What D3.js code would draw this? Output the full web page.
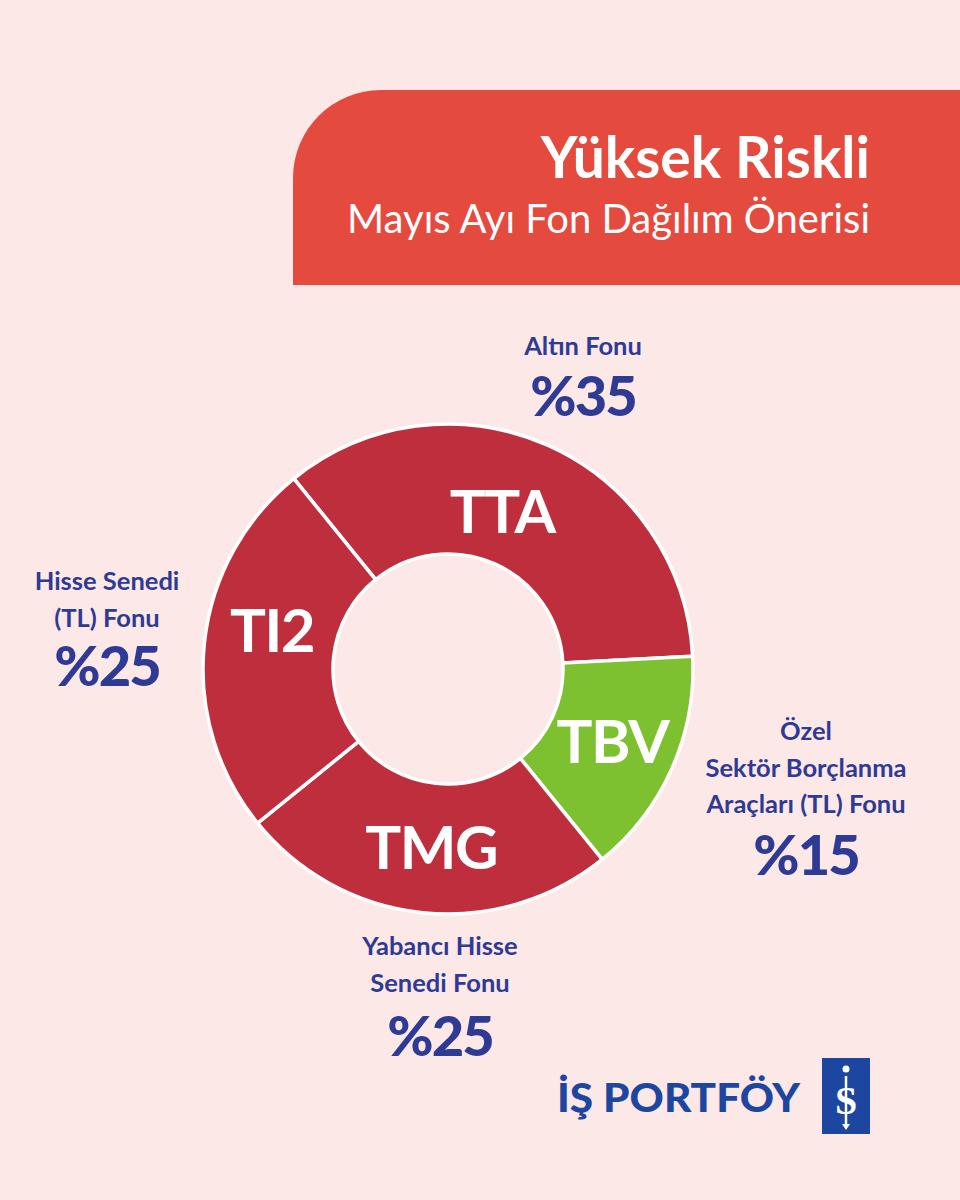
<!DOCTYPE html>
<html><head><meta charset="utf-8">
<script src="https://cdn.jsdelivr.net/npm/d3@7"></script>
<style>html,body{margin:0;padding:0;background:#FCE8E6;}svg{display:block;}</style>
</head><body>
<svg id="c" width="960" height="1200"></svg>
<script>
// ---- data ----
const codes = ["TTA", "TBV", "TMG", "TI2"];
const values = [35, 15, 25, 25];
const fundNames = [
  ["Altın Fonu"],
  ["Özel", "Sektör Borçlanma", "Araçları (TL) Fonu"],
  ["Yabancı Hisse", "Senedi Fonu"],
  ["Hisse Senedi", "(TL) Fonu"]
];
const percentLabels = ["%35", "%15", "%25", "%25"];
const titleText = "Yüksek Riskli";
const subtitleText = "Mayıs Ayı Fon Dağılım Önerisi";
const brandText = "İŞ PORTFÖY";

// ---- styles / layout ----
const BG = "#FCE8E6", RED = "#BE2E3D", GREEN = "#7DC130", HEAD = "#E54A3F", BLUE = "#2E3A94", LOGO = "#1C46A0";
const sliceColors = [RED, GREEN, RED, RED];
const cx = 448, cy = 669, R = 245, r0 = 115;
const FONT = "Lato, 'Open Sans', sans-serif";

const svg = d3.select("#c");
svg.append("rect").attr("width", 960).attr("height", 1200).attr("fill", BG);

// header panel with rounded top-left corner
const hx = 293, hy = 90, hw = 960 - 293, hh = 195, rad = 88;
svg.append("path")
  .attr("d", `M${hx},${hy + hh} L${hx},${hy + rad} A${rad},${rad} 0 0 1 ${hx + rad},${hy} L${hx + hw},${hy} L${hx + hw},${hy + hh} Z`)
  .attr("fill", HEAD);
svg.append("text").text(titleText)
  .attr("x", 870).attr("y", 178).attr("text-anchor", "end")
  .attr("font-family", FONT).attr("font-weight", 700).attr("font-size", 57)
  .attr("fill", "#fff");
svg.append("text").text(subtitleText)
  .attr("x", 870).attr("y", 233).attr("text-anchor", "end")
  .attr("font-family", FONT).attr("font-weight", 400).attr("font-size", 40)
  .attr("fill", "#fff");

// donut
const startA = -39 * Math.PI / 180;
const pie = d3.pie().sort(null).value(d => d.v)
  .startAngle(startA).endAngle(startA + 2 * Math.PI);
const rows = codes.map((c, i) => ({ code: c, v: values[i], color: sliceColors[i] }));
const arcs = pie(rows);
const arc = d3.arc().innerRadius(r0).outerRadius(R);
const g = svg.append("g").attr("transform", `translate(${cx},${cy})`);
g.selectAll("path.slice").data(arcs).join("path")
  .attr("class", "slice")
  .attr("d", arc)
  .attr("fill", d => d.data.color)
  .attr("stroke", "#fff").attr("stroke-width", 3.5).attr("stroke-linejoin", "round");

// slice code labels (centroid with small nudges)
const codeNudge = [[-19, 7], [0, -1], [2, -1], [3, -20]];
g.selectAll("text.code").data(arcs).join("text")
  .attr("class", "code")
  .attr("x", (d, i) => arc.centroid(d)[0] + codeNudge[i][0])
  .attr("y", (d, i) => arc.centroid(d)[1] + codeNudge[i][1])
  .attr("dy", "0.36em")
  .attr("text-anchor", "middle")
  .attr("font-family", FONT).attr("font-weight", 700).attr("font-size", 60)
  .attr("letter-spacing", -1.5)
  .attr("fill", "#fff")
  .text(d => d.data.code);

// outer labels
const labelPos = [
  { x: 583, y: 355, pctY: 416 },
  { x: 806, y: 740, pctY: 875 },
  { x: 440, y: 955, pctY: 1056 },
  { x: 107, y: 590, pctY: 686 }
];
const lineH = 36.5;
codes.forEach((c, i) => {
  const p = labelPos[i];
  fundNames[i].forEach((line, j) => {
    svg.append("text").text(line)
      .attr("x", p.x).attr("y", p.y + j * lineH)
      .attr("text-anchor", "middle")
      .attr("font-family", FONT).attr("font-weight", 700).attr("font-size", 25.5)
      .attr("fill", BLUE);
  });
  svg.append("text").text(percentLabels[i])
    .attr("x", p.x).attr("y", p.pctY)
    .attr("text-anchor", "middle")
    .attr("font-family", FONT).attr("font-weight", 900).attr("font-size", 56)
    .attr("letter-spacing", -2)
    .attr("fill", BLUE);
});

// brand
svg.append("text").text(brandText)
  .attr("x", 800).attr("y", 1112).attr("text-anchor", "end")
  .attr("font-family", FONT).attr("font-weight", 900).attr("font-size", 39)
  .attr("textLength", 243).attr("lengthAdjust", "spacingAndGlyphs")
  .attr("fill", LOGO);
const lg = svg.append("g").attr("transform", "translate(822,1058)");
lg.append("rect").attr("width", 48).attr("height", 76).attr("fill", LOGO);
lg.append("line").attr("x1", 24).attr("x2", 24).attr("y1", 18).attr("y2", 66)
  .attr("stroke", "#fff").attr("stroke-width", 2.5);
lg.append("circle").attr("cx", 24).attr("cy", 11).attr("r", 3.5).attr("fill", "#fff");
lg.append("text").text("S").attr("x", 24).attr("y", 56).attr("text-anchor", "middle")
  .attr("font-family", "'Liberation Serif', serif").attr("font-weight", 700).attr("font-size", 40)
  .attr("fill", "#fff");
lg.append("path").attr("d", "M20,66 L24,72 L28,66 Z").attr("fill", "#fff");
</script>
</body></html>
